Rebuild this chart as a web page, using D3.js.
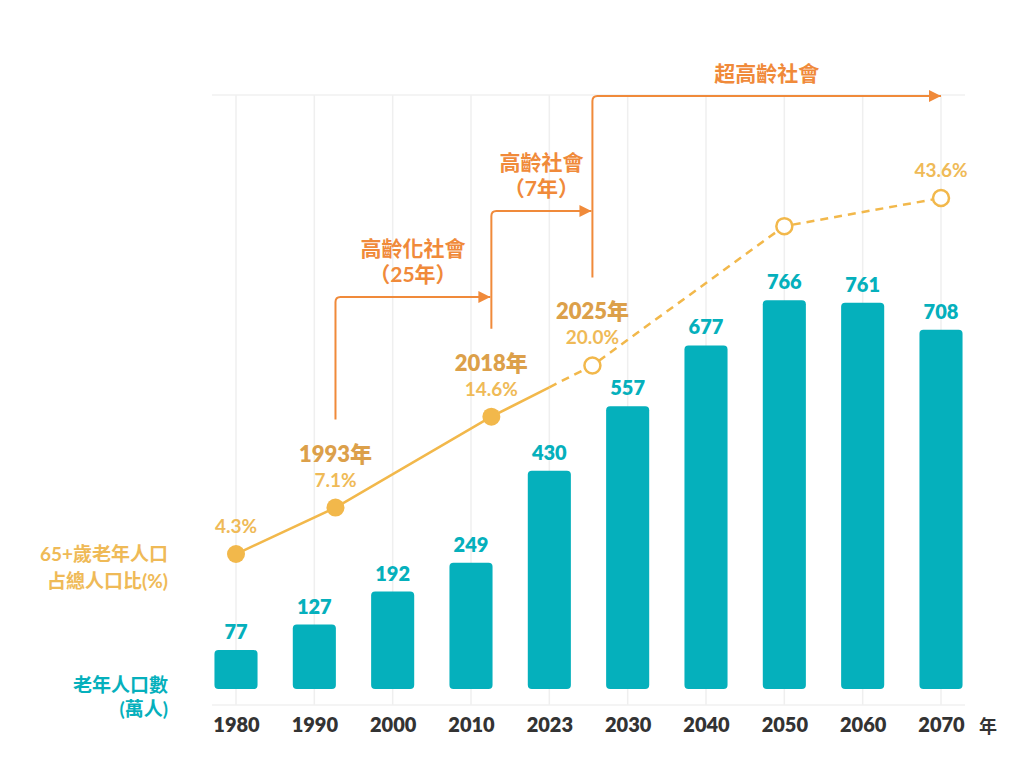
<!DOCTYPE html>
<html>
<head>
<meta charset="utf-8">
<script src="https://cdn.jsdelivr.net/npm/d3@7"></script>
<style>
  body { margin: 0; background: #fff; }
  svg text { font-family: Lato, "Noto Sans CJK TC", sans-serif; font-weight: 700; }
</style>
</head>
<body>
<div id="chart"></div>
<script>

// elderly population (萬人) per year
var years = ["1980", "1990", "2000", "2010", "2023", "2030", "2040", "2050", "2060", "2070"];
var elderly = [77, 127, 192, 249, 430, 557, 677, 766, 761, 708];

// share of 65+ in total population (%)
var shareYears = ["1980", "1993", "2018", "2025", "2050", "2070"];
var shareValues = [4.3, 7.1, 14.6, 20.0, 39.0, 43.6];
var shareSlot = [0, 1.27, 3.26, 4.55, 7, 9];   // where the year falls between the year columns
var shareProjected = [false, false, false, true, true, true];
var shareYearLabel = ["", "1993年", "2018年", "2025年", "", ""];
var shareShowPct = [true, true, true, true, false, true];
var currentSlot = 4;  // 2023, solid line ends here

// aging stages
var stageNames = ["高齡化社會", "高齡社會", "超高齡社會"];
var stageSpans = ["（25年）", "（7年）", ""];
var stageFrom = [1, 2, 3];   // index into share points where the stage starts

var teal = "#05B0BC",
    gold = "#F2B84B",
    goldDark = "#DCA04A",
    goldText = "#EFBA57",
    orange = "#F08A3A";

var W = 1024, H = 768;

var svg = d3.select("#chart").append("svg")
    .attr("width", W)
    .attr("height", H);

var yTop = 95, yBottom = 705, barBase = 689;

var x = d3.scalePoint()
    .domain(years)
    .range([236, 941]);

var xSlot = d3.scaleLinear()
    .domain([0, years.length - 1])
    .range([236, 941]);

var yBar = d3.scaleLinear()
    .domain([0, 800])
    .range([barBase, barBase - 406]);

var yShare = d3.scaleSqrt()
    .domain([0, 43.6])
    .range([717, 198]);

var barW = x.step() * 0.55;

// grid
var grid = svg.append("g").attr("class", "grid");
grid.selectAll("line.v")
    .data(years)
    .enter().append("line")
    .attr("class", "v")
    .attr("x1", function (d) { return x(d); })
    .attr("x2", function (d) { return x(d); })
    .attr("y1", yTop)
    .attr("y2", yBottom)
    .style("stroke", "#efefef")
    .style("stroke-width", 1.5);

grid.selectAll("line.h")
    .data([yTop, yBottom])
    .enter().append("line")
    .attr("class", "h")
    .attr("x1", 212)
    .attr("x2", 965)
    .attr("y1", function (d) { return d; })
    .attr("y2", function (d) { return d; })
    .style("stroke", "#f1f1f1")
    .style("stroke-width", 1.5);

// bars
svg.selectAll("rect.bar")
    .data(years)
    .enter().append("rect")
    .attr("class", "bar")
    .attr("x", function (d) { return x(d) - barW / 2; })
    .attr("y", function (d, i) { return yBar(elderly[i]); })
    .attr("width", barW)
    .attr("height", function (d, i) { return barBase - yBar(elderly[i]); })
    .attr("rx", 4)
    .style("fill", teal);

svg.selectAll("text.bar-label")
    .data(years)
    .enter().append("text")
    .attr("class", "bar-label")
    .attr("x", function (d) { return x(d); })
    .attr("y", function (d, i) { return yBar(elderly[i]) - 11; })
    .attr("text-anchor", "middle")
    .style("font-size", "20px")
    .style("font-weight", 800)
    .style("fill", teal)
    .text(function (d, i) { return elderly[i]; });

// x axis labels
var xAxis = svg.append("g")
    .attr("transform", "translate(0," + (yBottom + 12) + ")")
    .call(d3.axisBottom(x).tickSize(0).tickPadding(0));
xAxis.select(".domain").remove();
xAxis.selectAll("text")
    .attr("dy", "0.75em")
    .style("font-family", "Lato, 'Noto Sans CJK TC', sans-serif")
    .style("font-weight", 800)
    .style("font-size", "20px")
    .style("fill", "#333");

svg.append("text")
    .attr("x", 988)
    .attr("y", yBottom + 28)
    .attr("text-anchor", "middle")
    .style("font-size", "18px")
    .style("fill", "#333")
    .text("年");

// share line
var pts = shareValues.map(function (v, i) {
    return { slot: shareSlot[i], v: v, proj: shareProjected[i], i: i };
});

var cur = pts[2], nxt = pts[3];
var tCur = (currentSlot - cur.slot) / (nxt.slot - cur.slot);
var splitPt = { slot: currentSlot, v: null,
    y: yShare(cur.v) + (yShare(nxt.v) - yShare(cur.v)) * tCur };

var line = d3.line()
    .x(function (d) { return xSlot(d.slot); })
    .y(function (d) { return d.y !== undefined ? d.y : yShare(d.v); });

svg.append("path")
    .datum(pts.filter(function (d) { return !d.proj; }).concat([splitPt]))
    .attr("d", line)
    .style("fill", "none")
    .style("stroke", gold)
    .style("stroke-width", 2.5);

svg.append("path")
    .datum([splitPt].concat(pts.filter(function (d) { return d.proj; })))
    .attr("d", line)
    .style("fill", "none")
    .style("stroke", gold)
    .style("stroke-width", 2.5)
    .style("stroke-dasharray", "8,6");

svg.selectAll("circle.pt")
    .data(pts)
    .enter().append("circle")
    .attr("class", "pt")
    .attr("cx", function (d) { return xSlot(d.slot); })
    .attr("cy", function (d) { return yShare(d.v); })
    .attr("r", function (d) { return d.proj ? 8 : 9; })
    .style("fill", function (d) { return d.proj ? "#fff" : gold; })
    .style("stroke", gold)
    .style("stroke-width", function (d) { return d.proj ? 2.5 : 0; });

svg.selectAll("text.pct")
    .data(pts.filter(function (d) { return shareShowPct[d.i]; }))
    .enter().append("text")
    .attr("class", "pct")
    .attr("x", function (d) { return xSlot(d.slot); })
    .attr("y", function (d) { return yShare(d.v) - 21; })
    .attr("text-anchor", "middle")
    .style("font-size", "19px")
    .style("fill", goldText)
    .text(function (d) { return d.v.toFixed(1) + "%"; });

svg.selectAll("text.pyear")
    .data(pts.filter(function (d) { return shareYearLabel[d.i] !== ""; }))
    .enter().append("text")
    .attr("class", "pyear")
    .attr("x", function (d) { return xSlot(d.slot); })
    .attr("y", function (d) { return yShare(d.v) - 46; })
    .attr("text-anchor", "middle")
    .style("font-size", "22px")
    .style("font-weight", 800)
    .style("fill", goldDark)
    .text(function (d) { return shareYearLabel[d.i]; });

// stage arrows
svg.append("defs").append("marker")
    .attr("id", "arrow")
    .attr("viewBox", "0 0 10 10")
    .attr("refX", 10)
    .attr("refY", 5)
    .attr("markerWidth", 8)
    .attr("markerHeight", 6)
    .attr("markerUnits", "strokeWidth")
    .attr("orient", "auto")
    .append("path")
    .attr("d", "M0,0 L10,5 L0,10 Z")
    .style("fill", orange);

var stageLevel = [297, 211, yTop + 1];   // horizontal run of each arrow
var r = 5;

stageNames.forEach(function (name, s) {
    var p = pts[stageFrom[s]];
    var x0 = xSlot(p.slot);
    var yb = yShare(p.v) - 88;
    var x1 = s < stageNames.length - 1 ? xSlot(pts[stageFrom[s + 1]].slot) - 1 : xSlot(years.length - 1);
    var yl = stageLevel[s];

    svg.append("path")
        .attr("d", "M" + x0 + "," + yb + " V" + (yl + r) +
            " Q" + x0 + "," + yl + " " + (x0 + r) + "," + yl + " H" + x1)
        .attr("marker-end", "url(#arrow)")
        .style("fill", "none")
        .style("stroke", orange)
        .style("stroke-width", 2);

    var cx = (x0 + x1) / 2;
    if (stageSpans[s] !== "") {
        svg.append("text")
            .attr("x", cx)
            .attr("y", yl - 41)
            .attr("text-anchor", "middle")
            .style("font-size", "21px")
            .style("fill", orange)
            .text(name);
        svg.append("text")
            .attr("x", cx)
            .attr("y", yl - 15)
            .attr("text-anchor", "middle")
            .style("font-size", "21px")
            .style("fill", orange)
            .text(stageSpans[s]);
    } else {
        svg.append("text")
            .attr("x", cx)
            .attr("y", yl - 15)
            .attr("text-anchor", "middle")
            .style("font-size", "21px")
            .style("fill", orange)
            .text(name);
    }
});

// side labels
svg.append("text")
    .attr("x", 168).attr("y", 561)
    .attr("text-anchor", "end")
    .style("font-size", "19px")
    .style("fill", goldText)
    .text("65+歲老年人口");
svg.append("text")
    .attr("x", 168).attr("y", 588)
    .attr("text-anchor", "end")
    .style("font-size", "19px")
    .style("fill", goldText)
    .text("占總人口比(%)");

svg.append("text")
    .attr("x", 168).attr("y", 692)
    .attr("text-anchor", "end")
    .style("font-size", "19px")
    .style("fill", teal)
    .text("老年人口數");
svg.append("text")
    .attr("x", 168).attr("y", 716)
    .attr("text-anchor", "end")
    .style("font-size", "19px")
    .style("fill", teal)
    .text("(萬人)");

</script>
</body>
</html>
